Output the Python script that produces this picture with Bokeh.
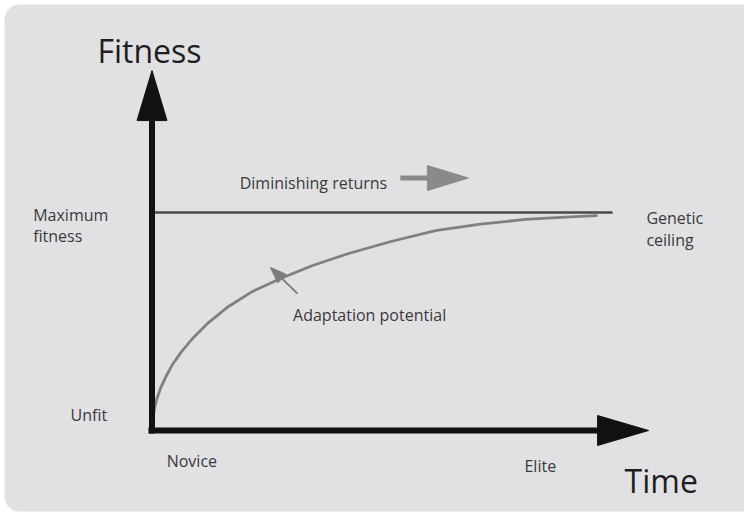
from bokeh.plotting import figure
from bokeh.models import Range1d, BoxAnnotation, ColumnDataSource
from bokeh.core.properties import value
from bokeh.embed import file_html
from bokeh.resources import INLINE

# ---- data (time units, fitness units) ----
curve_time = [0, 0.022, 0.056, 0.112, 0.191, 0.303, 0.461, 0.663, 0.933, 1.27, 1.72,
              2.26, 2.89, 3.61, 4.42, 5.37, 6.37, 7.38, 8.39, 9.29, 9.99]
curve_fitness = [0, 5.5, 10.1, 14.7, 19.3, 24.3, 30.3, 36.2, 42.7, 49.5, 56.9,
                 63.8, 69.7, 75.7, 81.2, 86.7, 91.7, 94.7, 96.8, 97.9, 98.6]

ceiling_time = [0, 10.35]
ceiling_fitness = [100, 100]

label_text = ["Maximum", "fitness", "Genetic", "ceiling", "Unfit", "Novice", "Elite",
              "Diminishing returns", "Adaptation potential"]
label_time = [-2.67, -2.67, 11.11, 11.11, -1.83, 0.33, 8.37, 1.97, 3.17]
label_fitness = [98.9, 89.1, 97.4, 87.6, 6.9, -14.1, -16.1, 113.4, 52.8]

title_text = ["Fitness", "Time"]
title_time = [-1.225, 10.62]
title_fitness = [174.3, -22.9]

# arrows: (start, tip)
yaxis_start = (0, -1.4)
yaxis_tip = (0, 165.1)
xaxis_start = (-0.08, 0)
xaxis_tip = (11.16, 0)
dim_start = (5.58, 115.8)
dim_tip = (7.11, 115.8)
marker_start = (3.27, 62.8)
marker_tip = (2.66, 74.8)

# ---- layout calibration ----
W, H = 744, 513
PX_X = 44.5      # pixels per time unit
PX_Y = 2.18      # pixels per fitness unit
OX, OY = 151.5, 430.0  # origin in canvas pixels

x0 = -OX / PX_X
x1 = (W - OX) / PX_X
y1 = OY / PX_Y
y0 = -(H - OY) / PX_Y

p = figure(width=W, height=H, x_range=Range1d(x0, x1), y_range=Range1d(y0, y1),
           x_axis_type=None, y_axis_type=None, toolbar_location=None,
           output_backend="svg", min_border=0)
p.outline_line_color = None
p.background_fill_color = "white"
p.border_fill_color = "white"
p.grid.visible = False

bg = BoxAnnotation(left=x0 + 4 / PX_X, right=x1 + 20 / PX_X, top=y1 - 4 / PX_Y,
                   bottom=y0 + 2 / PX_Y, fill_color="#e1e1e3", fill_alpha=1,
                   line_color=None, border_radius=15, level="underlay")
p.add_layout(bg)


def arrow(start, tip, head_len, head_w, color, shaft_w):
    """Shaft + triangle head; head sizes in pixels."""
    (sx, sy), (tx, ty) = start, tip
    dxp, dyp = (tx - sx) * PX_X, (ty - sy) * PX_Y
    L = (dxp ** 2 + dyp ** 2) ** 0.5
    ux, uy = dxp / L, dyp / L
    bxp, byp = -ux * head_len, -uy * head_len
    base = (tx + bxp / PX_X, ty + byp / PX_Y)
    nx, ny = -uy * head_w / 2, ux * head_w / 2
    xs = [tx, base[0] + nx / PX_X, base[0] - nx / PX_X]
    ys = [ty, base[1] + ny / PX_Y, base[1] - ny / PX_Y]
    p.line([sx, base[0] + ux * 2 / PX_X], [sy, base[1] + uy * 2 / PX_Y],
           line_color=color, line_width=shaft_w)
    p.patch(xs, ys, fill_color=color, line_color=color, line_width=1)


# ceiling line
p.line(ceiling_time, ceiling_fitness, line_color="#4a4a4a", line_width=2.5)
# curve
p.line(curve_time, curve_fitness, line_color="#808080", line_width=2.8,
       line_cap="round", line_join="round")

# axes
arrow(yaxis_start, yaxis_tip, 50, 30, "#111111", 6)
arrow(xaxis_start, xaxis_tip, 51, 30, "#111111", 6)
# diminishing returns arrow
arrow(dim_start, dim_tip, 41, 25, "#8a8a8a", 5)
# adaptation marker
arrow(marker_start, marker_tip, 16, 12, "#7c7c7c", 2)

src = ColumnDataSource(dict(x=label_time, y=label_fitness, t=label_text))
p.text("x", "y", text="t", source=src, text_font=value("Open Sans"),
       text_font_size="16px", text_color="#3a3a3a", text_baseline="alphabetic",
       text_align="left")

tsrc = ColumnDataSource(dict(x=title_time, y=title_fitness, t=title_text))
p.text("x", "y", text="t", source=tsrc, text_font=value("Open Sans"),
       text_font_size="32px", text_color="#1e1e1e", text_baseline="alphabetic",
       text_align="left")

open("out.html", "w").write(file_html(p, INLINE))
